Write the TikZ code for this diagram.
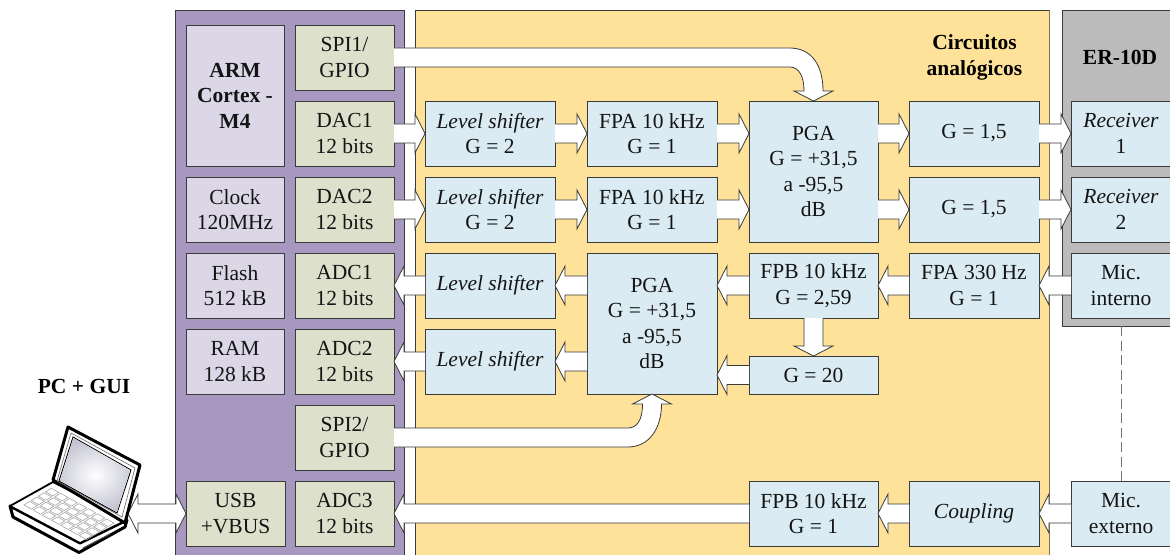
\documentclass[tikz,border=0pt]{standalone}
\usepackage{fontspec}
\setmainfont{Liberation Serif}
\usetikzlibrary{calc}
\definecolor{panelpurple}{HTML}{A897BE}
\definecolor{panelyellow}{HTML}{FFE299}
\definecolor{panelgray}{HTML}{BBBBBB}
\definecolor{boxblue}{HTML}{DAEBF3}
\definecolor{boxgreen}{HTML}{DDE1CC}
\definecolor{boxlilac}{HTML}{DCD7E7}
\definecolor{edgedark}{HTML}{3A3A3A}
\tikzset{
  blockbase/.style={draw=edgedark,line width=0.9pt,inner sep=0pt,outer sep=0pt,align=center,text=black!92,
     font=\fontsize{21.5}{25.5}\selectfont},
  bluebox/.style={blockbase,fill=boxblue},
  greenbox/.style={blockbase,fill=boxgreen},
  lilacbox/.style={blockbase,fill=boxlilac},
  heading/.style={align=center,inner sep=0pt,font=\fontsize{21.5}{25.5}\selectfont\bfseries,text=black},
  fatline/.style={draw=edgedark,line width=0.8pt,fill=white,line join=miter},
  keyline/.style={draw=black!35,line width=0.6pt},
  laptopline/.style={draw=black,line width=2.4pt,line join=round,fill=white},
}
% \blk{name}{style}{x0}{y0}{x1}{y1}{text}, in pixels from the top left of the reference
\newcommand{\blk}[7]{%
  \pgfmathsetmacro{\blkw}{#5-#3}\pgfmathsetmacro{\blkh}{#6-#4}%
  \pgfmathsetmacro{\blkx}{(#3+#5)/2}\pgfmathsetmacro{\blky}{555-(#4+#6)/2}%
  \node[#2,minimum width=\blkw pt,minimum height=\blkh pt] (#1) at (\blkx,\blky) {#7};}
% \fat{start}{end}: white block arrow
\newcommand{\fat}[2]{%
  \coordinate (fs) at (#1);\coordinate (fe) at (#2);
  \coordinate (fh) at ($(fe)!10pt!(fs)$);
  \draw[fatline] ($(fs)!9.5pt!90:(fe)$) -- ($(fh)!9.5pt!-90:(fs)$) -- ($(fh)!19.5pt!-90:(fs)$) -- (fe)
     -- ($(fh)!19.5pt!90:(fs)$) -- ($(fh)!9.5pt!90:(fs)$) -- ($(fs)!9.5pt!-90:(fe)$);}
\begin{document}
\begin{tikzpicture}[x=1pt,y=1pt]
\useasboundingbox (0,0) rectangle (1170,555);
% panels
\fill[panelpurple] (175,0) rectangle (404,545);
\draw[edgedark,line width=0.9pt] (175,0) -- (175,545) -- (404,545) -- (404,0);
\fill[panelyellow] (415,0) rectangle (1049,545);
\draw[edgedark,line width=0.9pt] (415,0) -- (415,545) -- (1049,545);
\draw[black!50!panelyellow,line width=1pt] (1049,545) -- (1049,0);
\fill[panelgray] (1062,229) rectangle (1170,545);
\draw[edgedark,line width=0.9pt] (1170,229) -- (1062,229) -- (1062,545) -- (1170,545);
% blocks: processor
\blk{arm}{lilacbox}{186}{25}{284}{166}{\textbf{ARM}\\\textbf{Cortex -}\\\textbf{M4}}
\blk{clk}{lilacbox}{186}{177}{284}{242}{Clock\\120MHz}
\blk{flash}{lilacbox}{186}{253}{284}{318}{Flash\\512 kB}
\blk{ram}{lilacbox}{186}{329}{284}{394}{RAM\\128 kB}
\blk{usb}{greenbox}{186}{481}{285}{546}{USB\\+VBUS}
\blk{spia}{greenbox}{295}{25}{394}{90}{SPI1/\\GPIO}
\blk{daca}{greenbox}{295}{101}{394}{166}{DAC1\\12 bits}
\blk{dacb}{greenbox}{295}{177}{394}{242}{DAC2\\12 bits}
\blk{adca}{greenbox}{295}{253}{394}{318}{ADC1\\12 bits}
\blk{adcb}{greenbox}{295}{329}{394}{394}{ADC2\\12 bits}
\blk{spib}{greenbox}{295}{405}{394}{470}{SPI2/\\GPIO}
\blk{adcc}{greenbox}{295}{481}{394}{546}{ADC3\\12 bits}
% blocks: analog
\blk{lsa}{bluebox}{425}{101}{555}{166}{\textit{Level shifter}\\G = 2}
\blk{lsb}{bluebox}{425}{177}{555}{242}{\textit{Level shifter}\\G = 2}
\blk{lsc}{bluebox}{425}{253}{555}{318}{\textit{Level shifter}}
\blk{lsd}{bluebox}{425}{329}{555}{394}{\textit{Level shifter}}
\blk{fpaa}{bluebox}{587}{101}{717}{166}{FPA 10 kHz\\G = 1}
\blk{fpab}{bluebox}{587}{177}{717}{242}{FPA 10 kHz\\G = 1}
\blk{pgab}{bluebox}{587}{253}{717}{394}{PGA\\G = +31,5\\a -95,5\\dB}
\blk{pgaa}{bluebox}{749}{101}{878}{242}{PGA\\G = +31,5\\a -95,5\\dB}
\blk{fpbb}{bluebox}{749}{253}{878}{318}{FPB 10 kHz\\G = 2,59}
\blk{gtw}{bluebox}{749}{356}{878}{394}{G = 20}
\blk{fpbc}{bluebox}{749}{481}{878}{546}{FPB 10 kHz\\G = 1}
\blk{gaa}{bluebox}{909}{101}{1039}{166}{G = 1,5}
\blk{gab}{bluebox}{909}{177}{1039}{242}{G = 1,5}
\blk{fpac}{bluebox}{909}{253}{1039}{318}{FPA 330 Hz\\G = 1}
\blk{coup}{bluebox}{909}{481}{1039}{546}{\textit{Coupling}}
% blocks: ER-10D
\blk{reca}{bluebox}{1071}{101}{1171}{166}{\textit{Receiver}\\1}
\blk{recb}{bluebox}{1071}{177}{1171}{242}{\textit{Receiver}\\2}
\blk{mica}{bluebox}{1071}{253}{1171}{318}{Mic.\\interno}
\blk{micb}{bluebox}{1071}{481}{1171}{546}{Mic.\\externo}
% headings
\node[heading] (circ) at (974.5,497.5) {Circuitos\\analógicos};
\node[heading] (er) at (1120,498) {ER-10D};
\node[heading] (pc) at (84,169) {PC + GUI};
% dashed link
\coordinate (micdash) at (mica.south |- 0,229);
\draw[black!55,line width=0.9pt,dash pattern=on 10pt off 4.5pt] (micdash) -- (micb.north -| micdash);
% straight block arrows
\fat{daca.east}{lsa.west}
\fat{lsa.east}{fpaa.west}
\fat{fpaa.east}{fpaa.east -| pgaa.west}
\fat{pgaa.east |- gaa.west}{gaa.west}
\fat{gaa.east}{reca.west}
\fat{dacb.east}{lsb.west}
\fat{lsb.east}{fpab.west}
\fat{fpab.east}{fpab.east -| pgaa.west}
\fat{pgaa.east |- gab.west}{gab.west}
\fat{gab.east}{recb.west}
\fat{mica.west}{fpac.east}
\fat{fpac.west}{fpbb.east}
\fat{fpbb.west}{fpbb.west -| pgab.east}
\fat{pgab.west |- lsc.east}{lsc.east}
\fat{lsc.west}{adca.east}
\fat{pgab.west |- lsd.east}{lsd.east}
\fat{lsd.west}{adcb.east}
\fat{fpbb.south}{gtw.north}
\fat{gtw.west}{gtw.west -| pgab.east}
\fat{micb.west}{coup.east}
\fat{coup.west}{fpbc.east}
\fat{fpbc.west}{adcc.east}
% SPI1 curved arrow
\coordinate (ta) at (pgaa.north);
\draw[fatline]
  ($(spia.east)+(0,9.5)$) -- ($(ta)+(-24,53)$)
  .. controls ($(ta)+(-2,53)$) and ($(ta)+(9.5,36)$) .. ($(ta)+(9.5,10)$)
  -- ($(ta)+(19.5,10)$) -- (ta) -- ($(ta)+(-19.5,10)$) -- ($(ta)+(-9.5,10)$)
  .. controls ($(ta)+(-9.5,24)$) and ($(ta)+(-14,34)$) .. ($(ta)+(-24,34)$)
  -- ($(spia.east)+(0,-9.5)$);
% SPI2 curved arrow
\coordinate (tb) at (pgab.south);
\draw[fatline]
  ($(spib.east)+(0,9.5)$) -- ($(tb)+(-24,-34)$)
  .. controls ($(tb)+(-15,-34)$) and ($(tb)+(-9.5,-26)$) .. ($(tb)+(-9.5,-10)$)
  -- ($(tb)+(-19.5,-10)$) -- (tb) -- ($(tb)+(19.5,-10)$) -- ($(tb)+(9.5,-10)$)
  .. controls ($(tb)+(9.5,-36)$) and ($(tb)+(-4,-53)$) .. ($(tb)+(-24,-53)$)
  -- ($(spib.east)+(0,-9.5)$);
% USB double arrow
\coordinate (lapr) at (128,41.5);
\coordinate (lapb) at (usb.west);
\draw[fatline] (lapr) -- ($(lapr)+(10,19.5)$) -- ($(lapr)+(10,9.5)$) -- ($(lapb)+(-10,9.5)$) -- ($(lapb)+(-10,19.5)$) -- (lapb)
  -- ($(lapb)+(-10,-19.5)$) -- ($(lapb)+(-10,-9.5)$) -- ($(lapr)+(10,-9.5)$) -- ($(lapr)+(10,-19.5)$) -- cycle;
% laptop: lip, top face, lid, screen, keys
\draw[laptopline,line width=3pt] (10,49) -- (13,38) -- (79,2.5) -- (125,28) -- (127,35) -- (80,12) -- cycle;
\draw[laptopline,line width=1.8pt] (10,49) -- (53,73) -- (127,35) -- (80,12) -- cycle;
\draw[laptopline,line width=3pt] (53,75) -- (68,128) -- (140,90) -- (125,32) -- cycle;
\draw[black!60,line width=0.6pt] (57,74) -- (71,122) -- (135,87) -- (122,38) -- cycle;
\draw[black,line width=0.9pt,fill=white] (59,74) -- (73,118) -- (131,85) -- (117,42) -- cycle;
\begin{scope}
  \clip (60,74.5) -- (73.5,117) -- (130,85) -- (117,43) -- cycle;
  \shade[inner color=white,outer color=blue!25!black!25] (50,40) rectangle (140,120);
\end{scope}
\foreach \r in {0,1,2,3} {
  \foreach \c in {0,...,6} {
    \pgfmathsetmacro{\ax}{24+\c*9.2+\r*7.2}
    \pgfmathsetmacro{\ay}{50-\c*5.1+\r*4.4}
    \draw[keyline] (\ax,\ay) -- ++(5.8,3.5) -- ++(7.4,-4.1) -- ++(-5.8,-3.5) -- cycle;
  }
}
\draw[black!70,line width=1pt] (83,7) -- (110,21);
\end{tikzpicture}
\end{document}
